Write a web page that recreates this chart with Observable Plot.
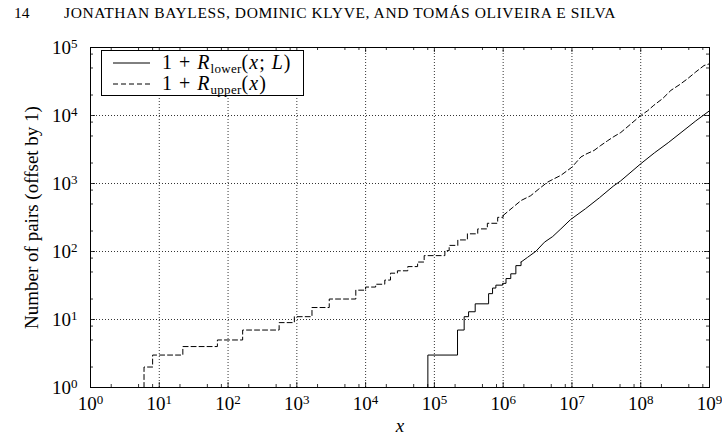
<!DOCTYPE html>
<html><head><meta charset="utf-8">
<script src="https://cdn.jsdelivr.net/npm/d3@7"></script>
<script src="https://cdn.jsdelivr.net/npm/@observablehq/plot@0.6"></script>
<style>
body{margin:0;background:#fff;}
#wrap{position:relative;width:722px;height:439px;font-family:"Liberation Serif","DejaVu Serif",serif;color:#000;overflow:hidden}
#hdr{position:absolute;top:0;left:0;width:722px;height:30px;font-size:15.5px}
#pg{position:absolute;left:14px;top:4px}
#au{position:absolute;left:64px;top:4px;letter-spacing:0.6px}
#chart{position:absolute;left:0;top:30px}
#legend{position:absolute;left:101px;top:50px;width:203px;height:46px;border:1px solid #000;background:#fff;font-size:20px;box-sizing:border-box}
.row{position:absolute;left:0;height:22px;width:200px}
.row svg{position:absolute;left:11px;top:0}
.row span{position:absolute;left:60px;top:-1px;white-space:nowrap;line-height:22px;letter-spacing:1px}
.row sub{font-size:13px;vertical-align:-4px;line-height:0;letter-spacing:0.3px}
g[aria-label="x-axis tick label"] text, g[aria-label="y-axis tick label"] text{font-size:19px}
g[aria-label="x-axis label"] text{font-style:italic;font-size:19px}
g[aria-label="y-axis label"] text{font-size:19px}
</style></head>
<body>
<div id="wrap">
  <div id="hdr"><span id="pg">14</span><span id="au">JONATHAN BAYLESS, DOMINIC KLYVE, AND TOMÁS OLIVEIRA E SILVA</span></div>
  <div id="chart"></div>
  <div id="legend">
    <div class="row" style="top:1px"><svg width="40" height="22"><line x1="0" x2="37" y1="11" y2="11" stroke="#000" stroke-width="1"/></svg><span>1 + <i>R</i><sub>lower</sub>(<i>x</i>; <i>L</i>)</span></div>
    <div class="row" style="top:22px"><svg width="40" height="22"><line x1="0" x2="37" y1="11" y2="11" stroke="#000" stroke-width="1" stroke-dasharray="5,3"/></svg><span>1 + <i>R</i><sub>upper</sub>(<i>x</i>)</span></div>
  </div>
</div>
<script>
// ---- data ----
const xMajor = [1e0,1e1,1e2,1e3,1e4,1e5,1e6,1e7,1e8,1e9];
const yMajor = [1e0,1e1,1e2,1e3,1e4,1e5];
const minorMult = [2,5,8];

// upper bound 1+R_upper(x): step part
const upperStepX = [6,6,8,22,70,163,553,920,1660,2960,7200,10000,14000,19000,23000,29000,41000,57000,71000,142000,164000,219000,302000,427000,589000,832000,1000000];
const upperStepV = [1,2,3,4,5,7,9,11,15,20,27,30,33,38,48,52,60,70,87,103,123,148,182,215,260,318,339];
// upper bound: dense tail
const upperTailX = [1000000,1350000,1820000,2510000,3310000,4420000,5500000,6900000,1e7,1.15e7,1.35e7,1.66e7,2.09e7,2.63e7,3.31e7,4.07e7,5.13e7,7.08e7,1e8,1.26e8,1.55e8,2.09e8,2.75e8,3.63e8,4.79e8,6.31e8,8.32e8,1e9];
const upperTailV = [339,437,562,661,832,1047,1175,1318,1738,2042,2455,2754,3055,3631,4266,4898,5623,7413,10000,11750,14125,17780,23440,28180,34670,43650,54330,57540];

// lower bound 1+R_lower(x;L): step part
const lowerStepX = [80400,80400,217000,271000,314000,392000,614000,701000,783000,980000,1100000,1290000,1530000,1820000];
const lowerStepV = [1,3,7,11,13,17,24,29,32,34,40,47,62,70];
// lower bound: dense tail
const lowerTailX = [1820000,2260000,3000000,3980000,5250000,6900000,9550000,1.58e7,2.51e7,3.98e7,5.13e7,1e8,1.58e8,2.51e8,3.98e8,6.31e8,1e9];
const lowerTailV = [70,82,101,137,166,215,295,427,617,912,1096,1950,2820,3980,5750,8320,11750];

// ---- build ----
const zip = (xs, vs) => xs.map((x, i) => ({x, v: vs[i]}));
const xMinor = xMajor.slice(0, -1).flatMap(d => minorMult.map(m => d * m));
const yMinor = yMajor.slice(0, -1).flatMap(d => minorMult.map(m => d * m));

const W = 722, H = 409, mT = 17, mB = 52, mL = 90, mR = 13;
const fw = W - mL - mR, fh = H - mT - mB;
const fmt = d => "10^" + Math.round(Math.log10(d));
const FONT = '"Liberation Serif","DejaVu Serif",serif';

const chart = Plot.plot({
  width: W, height: H,
  marginTop: mT, marginBottom: mB, marginLeft: mL, marginRight: mR,
  style: {fontFamily: FONT, fontSize: "19px", background: "#fff", color: "#000"},
  x: {type: "log", domain: [1, 1e9]},
  y: {type: "log", domain: [1, 1e5]},
  marks: [
    Plot.gridX(xMajor, {stroke: "#000", strokeOpacity: 1, strokeWidth: 0.8, strokeDasharray: "1,2"}),
    Plot.gridY(yMajor, {stroke: "#000", strokeOpacity: 1, strokeWidth: 0.8, strokeDasharray: "1,2"}),
    // inward ticks on all four sides
    Plot.ruleX(xMajor, {x: d => d, insetTop: fh - 5, stroke: "#000", strokeWidth: 0.8}),
    Plot.ruleX(xMajor, {x: d => d, insetBottom: fh - 5, stroke: "#000", strokeWidth: 0.8}),
    Plot.ruleX(xMinor, {x: d => d, insetTop: fh - 3, stroke: "#000", strokeWidth: 0.8}),
    Plot.ruleX(xMinor, {x: d => d, insetBottom: fh - 3, stroke: "#000", strokeWidth: 0.8}),
    Plot.ruleY(yMajor, {y: d => d, insetRight: fw - 5, stroke: "#000", strokeWidth: 0.8}),
    Plot.ruleY(yMajor, {y: d => d, insetLeft: fw - 5, stroke: "#000", strokeWidth: 0.8}),
    Plot.ruleY(yMinor, {y: d => d, insetRight: fw - 3, stroke: "#000", strokeWidth: 0.8}),
    Plot.ruleY(yMinor, {y: d => d, insetLeft: fw - 3, stroke: "#000", strokeWidth: 0.8}),
    // series
    Plot.line(zip(upperStepX, upperStepV), {x: "x", y: "v", curve: "step-after", stroke: "#000", strokeWidth: 1, strokeDasharray: "5,3"}),
    Plot.line(zip(upperTailX, upperTailV), {x: "x", y: "v", curve: "linear", stroke: "#000", strokeWidth: 1, strokeDasharray: "5,3"}),
    Plot.line(zip(lowerStepX, lowerStepV), {x: "x", y: "v", curve: "step-after", stroke: "#000", strokeWidth: 1}),
    Plot.line(zip(lowerTailX, lowerTailV), {x: "x", y: "v", curve: "linear", stroke: "#000", strokeWidth: 1}),
    Plot.frame({stroke: "#000", strokeWidth: 1}),
    Plot.axisX(xMajor, {tickSize: 0, tickPadding: 9, tickFormat: fmt, label: "x", labelAnchor: "center", labelArrow: "none", labelOffset: 44}),
    Plot.axisY(yMajor, {tickSize: 0, tickPadding: 13, tickFormat: fmt, label: "Number of pairs (offset by 1)", labelAnchor: "center", labelArrow: "none", labelOffset: 66})
  ]
});

// superscript exponents as real text
d3.select(chart).selectAll('g[aria-label="x-axis tick label"] text, g[aria-label="y-axis tick label"] text').each(function () {
  const t = this.textContent;
  if (!t.includes("^")) return;
  const [b, e] = t.split("^");
  this.textContent = b;
  d3.select(this).append("tspan").attr("dy", "-0.45em").attr("font-size", "13px").text(e);
});
document.getElementById("chart").appendChild(chart);
</script>
</body></html>
